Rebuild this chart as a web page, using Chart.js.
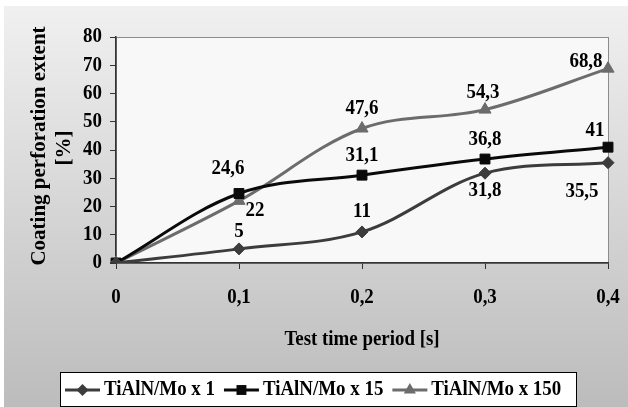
<!DOCTYPE html>
<html>
<head>
<meta charset="utf-8">
<script src="https://cdn.jsdelivr.net/npm/chart.js@4/dist/chart.umd.min.js"></script>
<style>
  html, body { margin: 0; padding: 0; background: #fff; }
  canvas { display: block; }
</style>
</head>
<body>
<canvas id="myChart" width="628" height="407"></canvas>
<script>
const categories = ['0', '0,1', '0,2', '0,3', '0,4'];
const seriesNames = ['TiAlN/Mo x 1', 'TiAlN/Mo x 15', 'TiAlN/Mo x 150'];
const coatingX1 = [0, 5, 11, 31.8, 35.5];
const coatingX15 = [0, 24.6, 31.1, 36.8, 41];
const coatingX150 = [0, 22, 47.6, 54.3, 68.8];
const yTickValues = [0, 10, 20, 30, 40, 50, 60, 70, 80];

// where each value label sits relative to its point (dx, dy); null = no label
const labelOffsets = [
    [null, [0, -17], [0, -20], [0, 17], [-26, 29]],
    [null, [-11, -25], [0, -20], [0, -19], [-13, -17]],
    [null, [16, 10], [0, -20], [-2, -17], [-22, -7]],
];

const FONT = 'bold 21px "Liberation Serif", "Times New Roman", serif';
const SQUEEZE = 0.9;

function squeezedText(ctx, text, x, y, align) {
    ctx.save();
    ctx.translate(x, y);
    ctx.scale(SQUEEZE, 1);
    ctx.font = FONT;
    ctx.fillStyle = '#000';
    ctx.textAlign = align || 'center';
    ctx.textBaseline = 'middle';
    ctx.fillText(text, 0, 0);
    ctx.restore();
}

function marker(ctx, style, r, x, y, color) {
    ctx.save();
    ctx.fillStyle = color;
    ctx.beginPath();
    if (style === 'rectRot') {
        ctx.moveTo(x, y - r); ctx.lineTo(x + r, y); ctx.lineTo(x, y + r); ctx.lineTo(x - r, y);
    } else if (style === 'rect') {
        const s = r * Math.SQRT1_2;
        ctx.rect(x - s, y - s, 2 * s, 2 * s);
    } else {
        const h = r * 1.5;
        ctx.moveTo(x, y - r); ctx.lineTo(x + r * 0.866, y + r / 2); ctx.lineTo(x - r * 0.866, y + r / 2);
    }
    ctx.closePath();
    ctx.fill();
    ctx.restore();
}

const backgroundPlugin = {
    id: 'background',
    beforeDraw(chart) {
        const ctx = chart.ctx;
        const a = chart.chartArea;
        ctx.save();
        ctx.fillStyle = '#fff';
        ctx.fillRect(0, 0, chart.width, chart.height);
        const g = ctx.createLinearGradient(0, 6, 0, chart.height);
        g.addColorStop(0, '#f0f0f0');
        g.addColorStop(1, '#bcbcbc');
        ctx.fillStyle = g;
        ctx.fillRect(4, 6, chart.width - 4, chart.height - 6);
        ctx.fillStyle = '#f8f8f8';
        ctx.fillRect(a.left, a.top, a.right - a.left, a.bottom - a.top);
        ctx.strokeStyle = '#8c8c8c';
        ctx.lineWidth = 1;
        ctx.strokeRect(a.left + 0.5, a.top + 0.5, a.right - a.left, a.bottom - a.top);
        ctx.restore();
    }
};

const textPlugin = {
    id: 'texts',
    afterDraw(chart) {
        const ctx = chart.ctx;
        const xs = chart.scales.x;
        const ys = chart.scales.y;
        const a = chart.chartArea;

        yTickValues.forEach(v => squeezedText(ctx, String(v), 102, ys.getPixelForValue(v), 'right'));
        categories.forEach((c, i) => squeezedText(ctx, c, xs.getPixelForValue(i), 298));

        // y axis title (not squeezed, it runs vertically)
        ctx.save();
        ctx.translate(40, 146);
        ctx.rotate(-Math.PI / 2);
        ctx.font = FONT;
        ctx.fillStyle = '#000';
        ctx.textAlign = 'center';
        ctx.textBaseline = 'middle';
        ctx.fillText('Coating perforation extent', 0, 0);
        ctx.fillText('[%]', -2, 25);
        ctx.restore();

        squeezedText(ctx, 'Test time period [s]', (a.left + a.right) / 2, 340);

        // value labels
        chart.data.datasets.forEach((ds, di) => {
            const meta = chart.getDatasetMeta(di);
            meta.data.forEach((pt, i) => {
                const off = labelOffsets[di][i];
                if (!off) return;
                squeezedText(ctx, String(ds.data[i]).replace('.', ','), pt.x + off[0], pt.y + off[1]);
            });
        });

        // legend
        ctx.save();
        ctx.fillStyle = '#fff';
        ctx.fillRect(60, 372, 516, 34);
        ctx.strokeStyle = '#000';
        ctx.lineWidth = 1;
        ctx.strokeRect(60.5, 372.5, 516, 34);
        ctx.restore();
        let x = 65;
        const ly = 390;
        chart.data.datasets.forEach(ds => {
            ctx.save();
            ctx.strokeStyle = ds.borderColor;
            ctx.lineWidth = 3;
            ctx.beginPath();
            ctx.moveTo(x, ly);
            ctx.lineTo(x + 35, ly);
            ctx.stroke();
            ctx.restore();
            marker(ctx, ds.pointStyle, ds.pointRadius, x + 17.5, ly, ds.borderColor);
            ctx.save();
            ctx.font = FONT;
            const w = ctx.measureText(ds.label).width * SQUEEZE;
            ctx.restore();
            squeezedText(ctx, ds.label, x + 39, ly, 'left');
            x += 39 + w + 9;
        });
    }
};

const data = {
    labels: categories,
    datasets: [
        {
            label: seriesNames[0],
            data: coatingX1,
            borderColor: '#3c3c3c',
            backgroundColor: '#3c3c3c',
            pointStyle: 'rectRot',
            pointRadius: 6,
        },
        {
            label: seriesNames[1],
            data: coatingX15,
            borderColor: '#0a0a0a',
            backgroundColor: '#0a0a0a',
            pointStyle: 'rect',
            pointRadius: 7,
        },
        {
            label: seriesNames[2],
            data: coatingX150,
            borderColor: '#6c6c6c',
            backgroundColor: '#6c6c6c',
            pointStyle: 'triangle',
            pointRadius: 7,
        },
    ]
};

const config = {
    type: 'line',
    data: data,
    options: {
        responsive: false,
        devicePixelRatio: 1,
        animation: false,
        layout: { padding: { top: 37, right: 20, left: 0, bottom: 0 } },
        elements: {
            line: { borderWidth: 3, tension: 0.35 },
            point: { borderWidth: 1 }
        },
        plugins: {
            legend: { display: false },
            tooltip: { enabled: false }
        },
        scales: {
            x: {
                offset: false,
                ticks: { display: false },
                grid: { drawOnChartArea: false, tickLength: 6, color: '#333' },
                border: { color: '#333', width: 1.5 },
                afterFit(scale) { scale.height = 144; }
            },
            y: {
                min: 0,
                max: 80,
                ticks: { display: false, stepSize: 10 },
                grid: { drawOnChartArea: false, tickLength: 6, color: '#333' },
                border: { color: '#333', width: 1.5 },
                afterFit(scale) { scale.width = 116; }
            }
        }
    },
    plugins: [backgroundPlugin, textPlugin]
};

const chart = new Chart(
    document.getElementById('myChart'),
    config
);
</script>
</body>
</html>
